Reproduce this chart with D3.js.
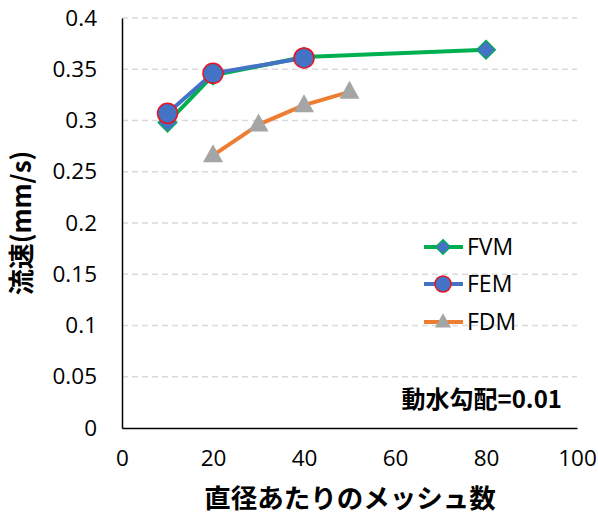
<!DOCTYPE html>
<html><head><meta charset="utf-8">
<script src="https://cdn.jsdelivr.net/npm/d3@7"></script>
<style>body{margin:0;background:#fff}</style>
</head><body>
<svg id="c" width="598" height="517"></svg>
<script>
const xTicks = [0,20,40,60,80,100];
const yTicks = [0,0.05,0.1,0.15,0.2,0.25,0.3,0.35,0.4];
const yTickLabels = ["0","0.05","0.1","0.15","0.2","0.25","0.3","0.35","0.4"];
const fvmX = [10,20,40,80];
const fvmY = [0.298,0.344,0.362,0.369];
const femX = [10,20,40];
const femY = [0.307,0.346,0.361];
const fdmX = [20,30,40,50];
const fdmY = [0.266,0.296,0.315,0.328];
const seriesNames = ["FVM","FEM","FDM"];
const xTitle = "直径あたりのメッシュ数";
const yTitle = "流速(mm/s)";
const note = "動水勾配=0.01";

const svg = d3.select("#c");
const x = d3.scaleLinear().domain([0,100]).range([122,577]);
const y = d3.scaleLinear().domain([0,0.4]).range([428,18]);
const font = "'Open Sans','Liberation Sans',sans-serif";
const cjk = "'Noto Sans CJK JP',sans-serif";

// gridlines
svg.append("g").selectAll("line").data(yTicks.filter(d=>d>0)).join("line")
  .attr("x1",x(0)).attr("x2",x(100)).attr("y1",d=>y(d)).attr("y2",d=>y(d))
  .attr("stroke","#D9D9D9").attr("stroke-width",1.3).attr("stroke-dasharray","6,4");

// axes
const ya = d3.axisLeft(y).tickValues(yTicks).tickFormat((d,i)=>yTickLabels[i]).tickSize(0).tickPadding(25);
const gy = svg.append("g").attr("transform",`translate(${x(0)},0)`).call(ya);
gy.select(".domain").attr("stroke","#000").attr("stroke-width",1.5);
gy.selectAll("text").attr("font-family",font).attr("font-size",22.5).attr("fill","#000");

const xa = d3.axisBottom(x).tickValues(xTicks).tickSize(0).tickPadding(22);
const gx = svg.append("g").attr("transform",`translate(0,${y(0)})`).call(xa);
gx.select(".domain").attr("stroke","#000").attr("stroke-width",1.5);
gx.selectAll("text").attr("font-family",font).attr("font-size",22.5).attr("fill","#000");

const line = d3.line().x(d=>x(d[0])).y(d=>y(d[1]));
const fvm = fvmX.map((v,i)=>[v,fvmY[i]]);
const fem = femX.map((v,i)=>[v,femY[i]]);
const fdm = fdmX.map((v,i)=>[v,fdmY[i]]);

function drawDiamond(g, cx, cy, s){
  g.append("path").attr("d",`M0,${-s}L${s},0L0,${s}L${-s},0Z`).attr("transform",`translate(${cx},${cy})`)
   .attr("fill","#4472C4").attr("stroke","#00B050").attr("stroke-width",1.2);
}
function drawCircle(g,cx,cy,r){
  g.append("circle").attr("cx",cx).attr("cy",cy).attr("r",r).attr("fill","#4472C4").attr("stroke","#E8141E").attr("stroke-width",1.5);
}
function drawTri(g,cx,cy,s){
  g.append("path").attr("d",`M0,${-s*1.1}L${s},${s*0.7}L${-s},${s*0.7}Z`).attr("transform",`translate(${cx},${cy})`).attr("fill","#A5A5A5");
}

// FDM
svg.append("path").datum(fdm).attr("d",line).attr("fill","none").attr("stroke","#ED7D31").attr("stroke-width",4).attr("stroke-linejoin","round");
const gFdm = svg.append("g");
fdm.forEach(d=>drawTri(gFdm,x(d[0]),y(d[1]),10));
// FVM
svg.append("path").datum(fvm).attr("d",line).attr("fill","none").attr("stroke","#00B050").attr("stroke-width",4).attr("stroke-linejoin","round");
const gFvm = svg.append("g");
fvm.forEach(d=>drawDiamond(gFvm,x(d[0]),y(d[1]),9.5));
// FEM
svg.append("path").datum(fem).attr("d",line).attr("fill","none").attr("stroke","#4472C4").attr("stroke-width",4).attr("stroke-linejoin","round");
const gFem = svg.append("g");
fem.forEach(d=>drawCircle(gFem,x(d[0]),y(d[1]),10));

// legend
const leg = svg.append("g");
const legColors = ["#00B050","#4472C4","#ED7D31"];
const legY = [247,284,322];
seriesNames.forEach((n,i)=>{
  leg.append("line").attr("x1",424).attr("x2",463).attr("y1",legY[i]).attr("y2",legY[i]).attr("stroke",legColors[i]).attr("stroke-width",4);
  if(i===0) drawDiamond(leg,443,legY[i],7.5);
  if(i===1) drawCircle(leg,443,legY[i],8);
  if(i===2) drawTri(leg,443,legY[i],8);
  leg.append("text").attr("x",467).attr("y",legY[i]+8).attr("font-family",font).attr("font-size",23).attr("fill","#000").text(n);
});

svg.append("text").attr("x",562).attr("y",408).attr("text-anchor","end").attr("font-family",cjk).attr("font-weight","bold").attr("font-size",24).attr("fill","#000").text(note);

svg.append("text").attr("x",350).attr("y",508).attr("text-anchor","middle").attr("font-family",cjk).attr("font-weight","bold").attr("font-size",26.5).attr("fill","#000").text(xTitle);

svg.append("text").attr("transform","translate(31,223) rotate(-90)").attr("text-anchor","middle").attr("font-family",cjk).attr("font-weight","bold").attr("font-size",26).attr("fill","#000").text(yTitle);
</script>
</body></html>
